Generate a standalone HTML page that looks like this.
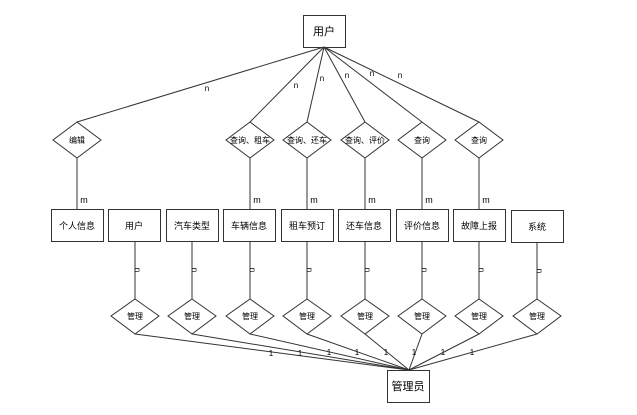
<html><body style="margin:0;background:#fff">
<svg width="637" height="415" xmlns="http://www.w3.org/2000/svg" font-family="Liberation Sans, Noto Sans CJK SC, sans-serif" font-size="9">
<g stroke="#333" stroke-width="1" fill="none">
<rect x="303.5" y="15.5" width="42" height="32" fill="#fff"/>
<line x1="324" y1="47" x2="77" y2="122"/>
<line x1="324" y1="47" x2="250" y2="122"/>
<line x1="324" y1="47" x2="307" y2="122"/>
<line x1="324" y1="47" x2="365" y2="122"/>
<line x1="324" y1="47" x2="422" y2="122"/>
<line x1="324" y1="47" x2="479" y2="122"/>
<g id="v">
<line x1="77" y1="158" x2="77" y2="209"/><line x1="250" y1="158" x2="250" y2="209"/><line x1="307" y1="158" x2="307" y2="209"/><line x1="365" y1="158" x2="365" y2="209"/><line x1="422" y1="158" x2="422" y2="209"/><line x1="479" y1="158" x2="479" y2="209"/>
</g>
<polygon points="77,122 101,140 77,158 53,140" fill="#fff"/>
<polygon points="250,122 274,140 250,158 226,140" fill="#fff"/>
<polygon points="307,122 331,140 307,158 283,140" fill="#fff"/>
<polygon points="365,122 389,140 365,158 341,140" fill="#fff"/>
<polygon points="422,122 446,140 422,158 398,140" fill="#fff"/>
<polygon points="479,122 503,140 479,158 455,140" fill="#fff"/>
<rect x="51.5" y="209.5" width="52" height="32"/>
<rect x="108.5" y="209.5" width="52" height="32"/>
<rect x="166.5" y="209.5" width="52" height="32"/>
<rect x="223.5" y="209.5" width="52" height="32"/>
<rect x="281.5" y="209.5" width="52" height="32"/>
<rect x="338.5" y="209.5" width="52" height="32"/>
<rect x="396.5" y="209.5" width="52" height="32"/>
<rect x="453.5" y="209.5" width="52" height="32"/>
<rect x="511.5" y="210.5" width="52" height="32"/>
<line x1="135" y1="241" x2="135" y2="299"/><line x1="192" y1="241" x2="192" y2="299"/><line x1="250" y1="241" x2="250" y2="299"/><line x1="307" y1="241" x2="307" y2="299"/><line x1="365" y1="241" x2="365" y2="299"/><line x1="422" y1="241" x2="422" y2="299"/><line x1="479" y1="241" x2="479" y2="299"/><line x1="537" y1="242" x2="537" y2="299"/>
<line x1="135" y1="334" x2="409" y2="370"/><line x1="192" y1="334" x2="409" y2="370"/><line x1="250" y1="334" x2="409" y2="370"/><line x1="307" y1="334" x2="409" y2="370"/><line x1="365" y1="334" x2="409" y2="370"/><line x1="422" y1="334" x2="409" y2="370"/><line x1="479" y1="334" x2="409" y2="370"/><line x1="537" y1="334" x2="409" y2="370"/>
<polygon points="135,299 159,316 135,334 111,316" fill="#fff"/>
<polygon points="192,299 216,316 192,334 168,316" fill="#fff"/>
<polygon points="250,299 274,316 250,334 226,316" fill="#fff"/>
<polygon points="307,299 331,316 307,334 283,316" fill="#fff"/>
<polygon points="365,299 389,316 365,334 341,316" fill="#fff"/>
<polygon points="422,299 446,316 422,334 398,316" fill="#fff"/>
<polygon points="479,299 503,316 479,334 455,316" fill="#fff"/>
<polygon points="537,299 561,316 537,334 513,316" fill="#fff"/>
<rect x="387.5" y="370.5" width="42" height="32" fill="#fff"/>
</g>
<g fill="#000" text-anchor="middle">
<text x="324" y="35" font-size="11">用户</text>
<text x="77" y="143" font-size="8">编辑</text>
<text x="250" y="143" font-size="8">查询、租车</text>
<text x="307" y="143" font-size="8">查询、还车</text>
<text x="365" y="143" font-size="8">查询、评价</text>
<text x="422" y="143" font-size="8">查询</text>
<text x="479" y="143" font-size="8">查询</text>
<text x="77" y="229">个人信息</text><text x="134" y="229">用户</text><text x="192" y="229">汽车类型</text><text x="249" y="229">车辆信息</text><text x="307" y="229">租车预订</text><text x="364" y="229">还车信息</text><text x="422" y="229">评价信息</text><text x="479" y="229">故障上报</text><text x="537" y="230">系统</text>
<g font-size="8"><text x="135" y="319">管理</text><text x="192" y="319">管理</text><text x="250" y="319">管理</text><text x="307" y="319">管理</text><text x="365" y="319">管理</text><text x="422" y="319">管理</text><text x="479" y="319">管理</text><text x="537" y="319">管理</text></g>
<text x="408" y="390" font-size="11">管理员</text>
<g font-size="9"><text x="84" y="203">m</text><text x="257" y="203">m</text><text x="314" y="203">m</text><text x="372" y="203">m</text><text x="429" y="203">m</text><text x="486" y="203">m</text></g>
<g font-size="8">
<text x="207" y="91">n</text><text x="296" y="88">n</text><text x="322" y="81">n</text><text x="347" y="78">n</text><text x="372" y="76">n</text><text x="400" y="78">n</text>
<text transform="translate(135,270) rotate(90)">n</text><text transform="translate(192,270) rotate(90)">n</text><text transform="translate(250,270) rotate(90)">n</text><text transform="translate(307,270) rotate(90)">n</text><text transform="translate(365,270) rotate(90)">n</text><text transform="translate(422,270) rotate(90)">n</text><text transform="translate(479,270) rotate(90)">n</text><text transform="translate(537,271) rotate(90)">n</text>
<text x="271" y="356">1</text><text x="300" y="356">1</text><text x="329" y="355">1</text><text x="357" y="355">1</text><text x="386" y="355">1</text><text x="414" y="355">1</text><text x="443" y="355">1</text><text x="472" y="355">1</text>
</g>
</g>
</svg>
</body></html>
